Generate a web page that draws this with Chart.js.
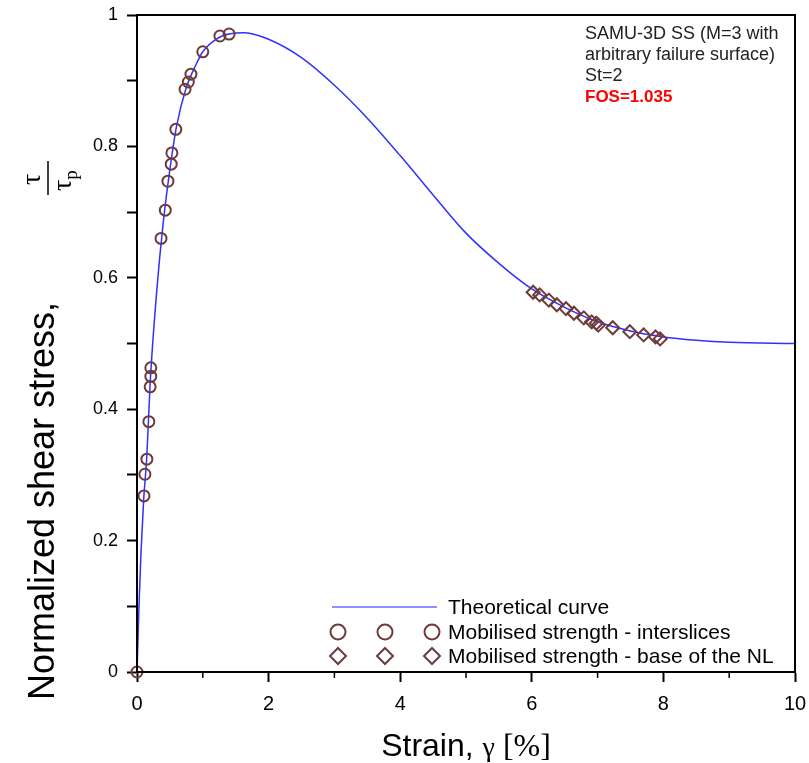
<!DOCTYPE html>
<html><head><meta charset="utf-8">
<script src="https://cdn.jsdelivr.net/npm/chart.js@4/dist/chart.umd.min.js"></script>
<style>html,body{margin:0;padding:0;background:#fff}</style>
</head><body>
<canvas id="c" width="809" height="763"></canvas>
<script>
// ---- data ----
const curveX = [0, 0.03, 0.06, 0.1, 0.15, 0.2, 0.3, 0.4, 0.5, 0.6, 0.75, 0.9, 1.0, 1.2, 1.4, 1.64, 2.0, 2.5, 3.0, 3.5, 4.0, 4.5, 5.0, 5.5, 6.0, 6.5, 7.0, 7.5, 8.0, 8.5, 9.0, 10];
const curveY = [0, 0.10, 0.18, 0.26, 0.33, 0.44, 0.58, 0.685, 0.765, 0.83, 0.89, 0.925, 0.944, 0.963, 0.971, 0.973, 0.963, 0.935, 0.893, 0.843, 0.786, 0.726, 0.668, 0.622, 0.583, 0.555, 0.533, 0.519, 0.510, 0.505, 0.502, 0.500];
const interX = [0, 0.106, 0.12, 0.15, 0.18, 0.2, 0.21, 0.21, 0.365, 0.43, 0.47, 0.52, 0.53, 0.59, 0.73, 0.78, 0.82, 1.0, 1.26, 1.40];
const interY = [0, 0.268, 0.301, 0.324, 0.381, 0.434, 0.45, 0.463, 0.66, 0.703, 0.747, 0.773, 0.79, 0.826, 0.887, 0.898, 0.91, 0.944, 0.968, 0.971];
const baseX = [6.02, 6.12, 6.26, 6.38, 6.52, 6.64, 6.79, 6.91, 6.98, 7.01, 7.23, 7.49, 7.70, 7.88, 7.95];
const baseY = [0.578, 0.574, 0.566, 0.559, 0.553, 0.546, 0.539, 0.533, 0.531, 0.528, 0.524, 0.518, 0.513, 0.510, 0.507];
const xTicks = [0, 2, 4, 6, 8, 10];
const xMinorTicks = [1, 3, 5, 7, 9];
const seriesNames = ['Theoretical curve', 'Mobilised strength - interslices', 'Mobilised strength - base of the NL'];
const noteLines = ['SAMU-3D SS (M=3 with', 'arbitrary failure surface)', 'St=2'];
const noteRed = 'FOS=1.035';

const zip = (xs, ys) => xs.map((x, i) => ({x, y: ys[i]}));
const SANS = '"Liberation Sans", Arial, sans-serif';
const SERIF = '"Liberation Serif", "Times New Roman", serif';
const MARK = '#6e3b3b';
const BLUE = '#3030ff';

const decor = {
  id: 'decor',
  afterDraw(chart) {
    const ctx = chart.ctx, a = chart.chartArea;
    const xs = chart.scales.x;
    ctx.save();
    // frame
    ctx.strokeStyle = '#000'; ctx.lineWidth = 2;
    ctx.strokeRect(a.left, a.top, a.right - a.left, a.bottom - a.top);
    // minor x ticks
    ctx.lineWidth = 1.5;
    xMinorTicks.forEach(v => {
      const px = xs.getPixelForValue(v);
      ctx.beginPath(); ctx.moveTo(px, a.bottom); ctx.lineTo(px, a.bottom + 6); ctx.stroke();
    });
    // annotation
    ctx.fillStyle = '#222'; ctx.font = '18px ' + SANS; ctx.textBaseline = 'alphabetic'; ctx.textAlign = 'left';
    noteLines.forEach((t, i) => ctx.fillText(t, 585, 39 + i * 21));
    ctx.fillStyle = '#ff0000'; ctx.font = 'bold 17px ' + SANS;
    ctx.fillText(noteRed, 585, 39 + 3 * 21);
    // legend
    const rows = [607, 632, 656];
    const symX = [338, 385, 432];
    ctx.fillStyle = '#000'; ctx.font = '21px ' + SANS; ctx.textBaseline = 'middle';
    ctx.strokeStyle = '#6a6aff'; ctx.lineWidth = 1.5;
    ctx.beginPath(); ctx.moveTo(332, rows[0]); ctx.lineTo(437, rows[0]); ctx.stroke();
    ctx.strokeStyle = MARK; ctx.lineWidth = 2;
    symX.forEach(sx => {
      ctx.beginPath(); ctx.arc(sx, rows[1], 7.5, 0, Math.PI * 2); ctx.stroke();
      ctx.beginPath(); ctx.moveTo(sx, rows[2] - 8); ctx.lineTo(sx + 8, rows[2]); ctx.lineTo(sx, rows[2] + 8); ctx.lineTo(sx - 8, rows[2]); ctx.closePath(); ctx.stroke();
    });
    seriesNames.forEach((t, i) => ctx.fillText(t, 448, rows[i] + 1));
    // x title
    ctx.textBaseline = 'alphabetic'; ctx.fillStyle = '#000';
    const parts = [['Strain, ', '32px ' + SANS], ['γ', '28px ' + SERIF], [' [%]', '32px ' + SERIF]];
    let w = 0; parts.forEach(p => { ctx.font = p[1]; w += ctx.measureText(p[0]).width; });
    let x = (a.left + a.right) / 2 - w / 2;
    parts.forEach(p => { ctx.font = p[1]; ctx.fillText(p[0], x, 756); x += ctx.measureText(p[0]).width; });
    // y title
    ctx.translate(54, 700); ctx.rotate(-Math.PI / 2);
    ctx.font = '36px ' + SANS; ctx.textAlign = 'left';
    ctx.fillText('Normalized shear stress,', 0, 0);
    const u0 = 505;
    ctx.font = '28px ' + SERIF;
    const tw = ctx.measureText('τ').width;
    ctx.fillText('τ', u0 + 10, -14);
    ctx.lineWidth = 1.5; ctx.strokeStyle = '#000';
    ctx.beginPath(); ctx.moveTo(u0, -6); ctx.lineTo(u0 + 34, -6); ctx.stroke();
    ctx.fillText('τ', u0 + 4, 17);
    ctx.font = '19px ' + SERIF;
    ctx.fillText('p', u0 + 4 + tw, 23);
    ctx.restore();
  }
};

new Chart(document.getElementById('c'), {
  type: 'scatter',
  data: {
    datasets: [
      {label: seriesNames[0], data: zip(curveX, curveY), showLine: true, borderColor: BLUE, borderWidth: 1.5, pointRadius: 0, cubicInterpolationMode: 'monotone', order: 2},
      {label: seriesNames[1], data: zip(interX, interY), pointStyle: 'circle', pointRadius: 5.5, borderColor: MARK, borderWidth: 2, backgroundColor: 'rgba(0,0,0,0)', clip: false, order: 1},
      {label: seriesNames[2], data: zip(baseX, baseY), pointStyle: 'rectRot', pointRadius: 6.5, borderColor: MARK, borderWidth: 2, backgroundColor: 'rgba(0,0,0,0)', clip: false, order: 1}
    ]
  },
  options: {
    responsive: false, animation: false,
    layout: {padding: {left: 0, right: 14, top: 15, bottom: 0}},
    plugins: {legend: {display: false}, tooltip: {enabled: false}},
    scales: {
      x: {
        type: 'linear', min: 0, max: 10,
        afterBuildTicks: s => { s.ticks = xTicks.map(v => ({value: v})); },
        afterFit: s => { s.height = 91; s.paddingLeft = 0; s.paddingRight = 0; },
        ticks: {font: {family: SANS, size: 20}, color: '#000', padding: 10, maxRotation: 0},
        grid: {drawOnChartArea: false, tickLength: 10, tickColor: '#000', tickWidth: 2},
        border: {color: '#000', width: 2}
      },
      y: {
        type: 'linear', min: 0, max: 1,
        ticks: {stepSize: 0.1, font: {family: SANS, size: 18}, color: '#000', padding: 9,
          callback: v => { const k = Math.round(v * 10); if (k % 2) return ''; return k === 0 ? '0' : (k === 10 ? '1' : (k / 10).toFixed(1)); }},
        afterFit: s => { s.width = 137; s.paddingTop = 0; s.paddingBottom = 0; },
        grid: {drawOnChartArea: false, tickLength: 10, tickColor: '#000', tickWidth: 2},
        border: {color: '#000', width: 2}
      }
    }
  },
  plugins: [decor]
});
</script>
</body></html>
